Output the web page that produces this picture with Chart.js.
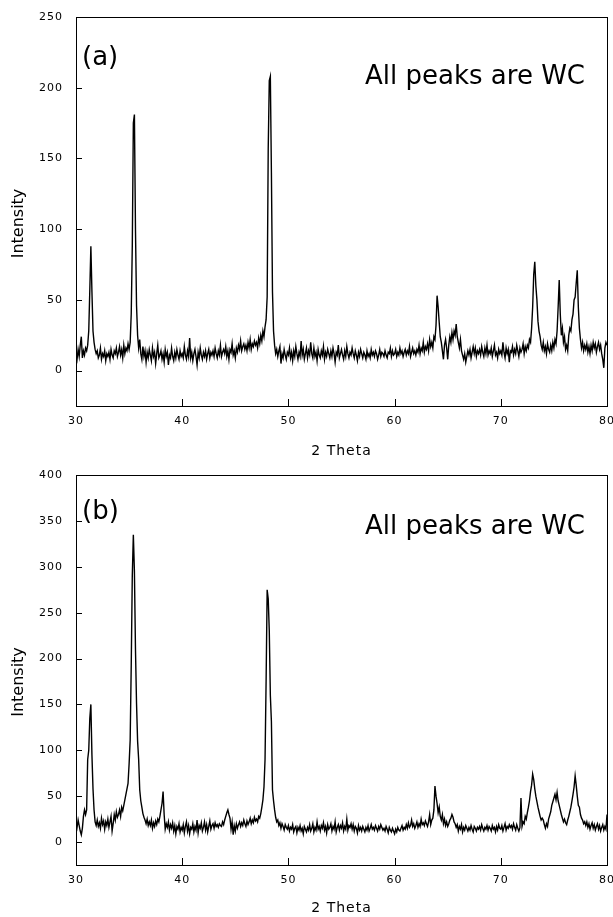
<!DOCTYPE html>
<html>
<head>
<meta charset="utf-8">
<script src="https://cdn.jsdelivr.net/npm/chart.js@4.4.1/dist/chart.umd.min.js"></script>
<style>
    html, body { margin: 0; padding: 0; background: #fff; }
    #wrap { position: relative; width: 613px; height: 917px; }
    canvas { position: absolute; left: 0; }
    #chartA { top: 0; }
    #chartB { top: 460px; }
</style>
</head>
<body>
<div id="wrap">
    <canvas id="chartA" width="613" height="460"></canvas>
    <canvas id="chartB" width="613" height="457"></canvas>
</div>
<script>
// 2 Theta sampling: 30.0 .. 80.0 every 0.1 deg (one row = one degree)
const thetaStart = 30;
const thetaStep = 0.1;

const thetaTicks = [30, 40, 50, 60, 70, 80];
const intensityTicksA = [0, 50, 100, 150, 200, 250];
const intensityTicksB = [0, 50, 100, 150, 200, 250, 300, 350, 400];

const xTitle = '2 Theta';
const yTitle = 'Intensity';
const noteText = 'All peaks are WC';

// panel (a)
const intensityA = [
    12, 8, 15, 10, 18, 24, 9, 14, 11, 16,
    14, 18, 28, 57, 88, 56, 28, 20, 15, 12,
    14, 9, 11, 16, 8, 12, 10, 14, 7, 12,
    10, 13, 8, 15, 11, 9, 14, 12, 16, 10,
    13, 17, 11, 15, 9, 18, 12, 16, 14, 19,
    15, 20, 40, 88, 175, 181, 100, 46, 25, 16,
    22, 12, 8, 17, 10, 14, 6, 13, 9, 15,
    11, 7, 16, 10, 13, 5, 12, 18, 9, 11,
    14, 8, 12, 6, 15, 10, 13, 4, 11, 9,
    16, 10, 7, 13, 9, 15, 11, 8, 14, 10,
    12, 9, 17, 11, 8, 14, 10, 23, 9, 13,
    7, 12, 15, 10, 4, 13, 9, 16, 11, 8,
    13, 10, 14, 8, 12, 15, 9, 13, 11, 14,
    10, 16, 12, 9, 14, 11, 18, 10, 13, 15,
    12, 17, 10, 14, 8, 15, 13, 19, 11, 14,
    9, 16, 13, 18, 15, 21, 14, 17, 19, 15,
    18, 14, 20, 16, 22, 15, 19, 17, 21, 18,
    20, 16, 23, 19, 25, 21, 28, 24, 31, 36,
    52, 157, 205, 208, 140, 56, 28, 18, 12, 15,
    10, 14, 17, 5, 12, 9, 15, 11, 8, 13,
    11, 16, 9, 13, 7, 14, 10, 17, 12, 8,
    13, 10, 21, 11, 15, 8, 12, 16, 9, 14,
    11, 20, 12, 9, 16, 10, 13, 7, 15, 11,
    9, 14, 11, 17, 8, 13, 10, 15, 12, 9,
    14, 10, 16, 12, 6, 13, 11, 18, 9, 12,
    15, 11, 8, 14, 10, 17, 12, 9, 13, 11,
    16, 12, 9, 14, 11, 7, 13, 10, 15, 12,
    9, 13, 11, 8, 14, 10, 12, 9, 15, 11,
    13, 10, 14, 12, 8, 11, 15, 10, 13, 12,
    10, 14, 11, 9, 13, 12, 16, 10, 14, 11,
    12, 15, 10, 13, 11, 16, 12, 14, 10, 13,
    15, 11, 14, 12, 17, 10, 13, 16, 12, 14,
    11, 15, 13, 18, 12, 16, 14, 20, 13, 17,
    15, 19, 14, 22, 17, 20, 16, 24, 22, 32,
    53, 45, 34, 24, 20, 14, 8, 18, 22, 16,
    8, 18, 24, 20, 27, 22, 28, 25, 33, 24,
    20, 16, 22, 14, 11, 8, 12, 6, 10, 14,
    11, 15, 9, 13, 17, 12, 16, 10, 14, 12,
    15, 11, 17, 13, 10, 16, 12, 18, 11, 14,
    12, 16, 10, 14, 18, 11, 13, 9, 15, 12,
    14, 11, 20, 13, 9, 16, 12, 15, 6, 14,
    13, 17, 11, 15, 12, 18, 14, 10, 16, 13,
    15, 19, 12, 17, 14, 18, 16, 22, 20, 30,
    45, 68, 77, 60, 50, 35, 28, 24, 18, 15,
    20, 14, 17, 12, 19, 15, 13, 18, 14, 20,
    16, 22, 19, 28, 45, 64, 40, 25, 30, 20,
    24, 15, 18, 14, 25, 30, 28, 36, 40, 50,
    52, 62, 71, 45, 30, 22, 16, 20, 14, 18,
    15, 19, 13, 17, 12, 18, 14, 20, 16, 19,
    13, 17, 20, 15, 18, 12, 8, 2, 16, 20,
    18
];

// panel (b)
const intensityB = [
    22, 16, 24, 18, 12, 8, 15, 28, 35, 30,
    35, 90, 100, 135, 150, 95, 58, 35, 22, 18,
    24, 17, 21, 15, 26, 19, 23, 14, 22, 18,
    25, 16, 22, 28, 12, 20, 30, 24, 33, 27,
    30, 35, 28, 38, 34, 40, 46, 52, 58, 64,
    85, 111, 192, 290, 335, 295, 210, 151, 110, 90,
    57, 45, 38, 31, 27, 24, 20, 25, 18, 22,
    18, 24, 15, 21, 17, 23, 19, 25, 22, 28,
    35, 42, 55, 30, 14, 20, 16, 22, 13, 19,
    15, 21, 12, 18, 9, 17, 14, 20, 11, 16,
    13, 19, 10, 17, 22, 12, 18, 9, 16, 14,
    20, 11, 17, 13, 24, 10, 18, 15, 21, 12,
    16, 22, 13, 19, 11, 17, 23, 14, 18, 20,
    15, 21, 17, 19, 16, 20, 18, 17, 22, 19,
    24, 28, 32, 35, 30, 26, 14, 22, 8, 18,
    12, 20, 15, 19, 22, 17, 21, 18, 24, 20,
    17, 23, 19, 22, 26, 20, 24, 21, 27, 23,
    25, 22, 28, 26, 31, 38, 46, 60, 90, 175,
    275, 265, 230, 160, 131, 57, 45, 35, 27, 22,
    24, 18, 21, 15, 20, 17, 13, 19, 16, 14,
    18, 12, 16, 14, 19, 11, 15, 17, 10, 16,
    13, 18, 12, 15, 9, 17, 14, 11, 16, 13,
    19, 12, 15, 20, 11, 16, 13, 22, 14, 17,
    12, 18, 15, 21, 13, 17, 10, 19, 14, 16,
    20, 12, 17, 14, 22, 11, 16, 19, 13, 18,
    15, 21, 12, 17, 14, 25, 13, 18, 16, 20,
    14, 19, 12, 17, 15, 10, 18, 13, 16, 12,
    17, 14, 11, 16, 13, 18, 12, 15, 19, 14,
    16, 13, 18, 15, 12, 17, 14, 19, 16, 13,
    15, 12, 17, 14, 10, 16, 13, 11, 15, 12,
    9, 14, 11, 16, 13, 12, 15, 18, 13, 16,
    14, 19, 15, 21, 16, 18, 24, 17, 20, 15,
    18, 22, 16, 20, 17, 25, 19, 21, 18, 23,
    20, 17, 22, 30, 19, 24, 26, 35, 61, 50,
    42, 32, 38, 28, 24, 30, 20, 25, 18, 22,
    17, 20, 24, 26, 30, 27, 22, 20, 16, 19,
    12, 17, 14, 19, 11, 16, 13, 18, 15, 12,
    16, 13, 18, 14, 11, 17, 15, 12, 16, 14,
    17, 13, 19, 15, 12, 16, 14, 18, 13, 17,
    15, 12, 18, 14, 16, 11, 17, 13, 19, 15,
    14, 18, 12, 16, 20, 13, 17, 15, 19, 16,
    18, 14, 20, 16, 13, 19, 15, 12, 16, 48,
    17, 22, 20, 28, 25, 32, 38, 45, 55, 62,
    74, 68, 58, 50, 44, 38, 33, 28, 24, 26,
    24, 19, 15, 20, 17, 25, 29, 33, 40, 44,
    48, 52, 46, 54, 45, 40, 35, 30, 26, 22,
    25, 21, 19, 24, 28, 33, 38, 45, 52, 60,
    72, 62, 50, 40, 38, 30, 26, 24, 20, 22,
    18, 22, 16, 20, 14, 18, 21, 15, 19, 13,
    17, 20, 14, 18, 12, 16, 19, 13, 17, 14,
    30
];

// frame, inward tick marks, y title and the text inside the plot
const framePlugin = {
    id: 'frame',
    beforeDraw(chart) {
        chart.ctx.letterSpacing = '1px';
    },
    afterDraw(chart, args, opts) {
        const ctx = chart.ctx;
        const a = chart.chartArea;
        const sx = chart.scales.x;
        const sy = chart.scales.y;
        ctx.save();
        ctx.letterSpacing = '0px';
        ctx.strokeStyle = '#000';
        ctx.lineWidth = 1;
        ctx.strokeRect(a.left + 0.5, a.top + 0.5, a.right - a.left, a.bottom - a.top);
        ctx.beginPath();
        sx.ticks.forEach(t => {
            const px = Math.round(sx.getPixelForValue(t.value)) + 0.5;
            ctx.moveTo(px, a.bottom);
            ctx.lineTo(px, a.bottom - 7);
        });
        sy.ticks.forEach(t => {
            const py = Math.round(sy.getPixelForValue(t.value)) + 0.5;
            ctx.moveTo(a.left, py);
            ctx.lineTo(a.left + 6, py);
        });
        ctx.stroke();

        ctx.fillStyle = '#000';
        ctx.font = '26px "DejaVu Sans"';
        ctx.textBaseline = 'alphabetic';
        ctx.textAlign = 'left';
        ctx.fillText(opts.tag, a.left + 6, a.top + opts.tagY);
        ctx.textAlign = 'right';
        ctx.fillText(noteText, a.right - 22, a.top + opts.noteY);

        // y axis title, sits a bit below the middle in the original
        ctx.font = '16px "DejaVu Sans"';
        ctx.textAlign = 'center';
        ctx.textBaseline = 'middle';
        ctx.translate(19, (a.top + a.bottom) / 2 + 12);
        ctx.rotate(-Math.PI / 2);
        ctx.fillText(yTitle, 0, 0);
        ctx.restore();
    }
};

function makePanel(canvasId, values, yMin, yMax, yTicks, tag, padTop, xAxisHeight, tagY, noteY) {
    const points = values.map((v, i) => ({ x: thetaStart + i * thetaStep, y: v }));
    const tickFont = { family: 'DejaVu Sans', size: 11 };

    new Chart(document.getElementById(canvasId), {
        type: 'line',
        data: {
            datasets: [{
                data: points,
                borderColor: '#000',
                borderWidth: 1.4,
                pointRadius: 0,
                tension: 0,
                fill: false
            }]
        },
        options: {
            responsive: false,
            animation: false,
            devicePixelRatio: 1,
            layout: { padding: { top: padTop, right: 6, left: 0, bottom: 0 } },
            plugins: {
                legend: { display: false },
                tooltip: { enabled: false },
                frame: { tag: tag, tagY: tagY, noteY: noteY }
            },
            scales: {
                x: {
                    type: 'linear',
                    min: 30,
                    max: 80,
                    grid: { display: false, drawTicks: false },
                    border: { display: false },
                    afterBuildTicks: scale => { scale.ticks = thetaTicks.map(v => ({ value: v })); },
                    afterFit: scale => {
                        scale.height = xAxisHeight;
                        scale.paddingLeft = 0;
                        scale.paddingRight = 0;
                    },
                    ticks: { color: '#000', font: tickFont, padding: 9, maxRotation: 0, autoSkip: false },
                    title: {
                        display: true,
                        text: xTitle,
                        color: '#000',
                        font: { family: 'DejaVu Sans', size: 14 },
                        padding: { top: 0, bottom: 0 }
                    }
                },
                y: {
                    min: yMin,
                    max: yMax,
                    grid: { display: false, drawTicks: false },
                    border: { display: false },
                    afterBuildTicks: scale => { scale.ticks = yTicks.map(v => ({ value: v })); },
                    afterFit: scale => {
                        scale.width = 76;
                        scale.paddingTop = 0;
                        scale.paddingBottom = 0;
                    },
                    ticks: { color: '#000', font: tickFont, padding: 13 }
                }
            }
        },
        plugins: [framePlugin]
    });
}

document.addEventListener('DOMContentLoaded', function() {
    makePanel('chartA', intensityA, -25, 250, intensityTicksA, '(a)', 17, 54, 48, 67);
    makePanel('chartB', intensityB, -25, 400, intensityTicksB, '(b)', 15, 52, 44, 59);
});
</script>
</body>
</html>
